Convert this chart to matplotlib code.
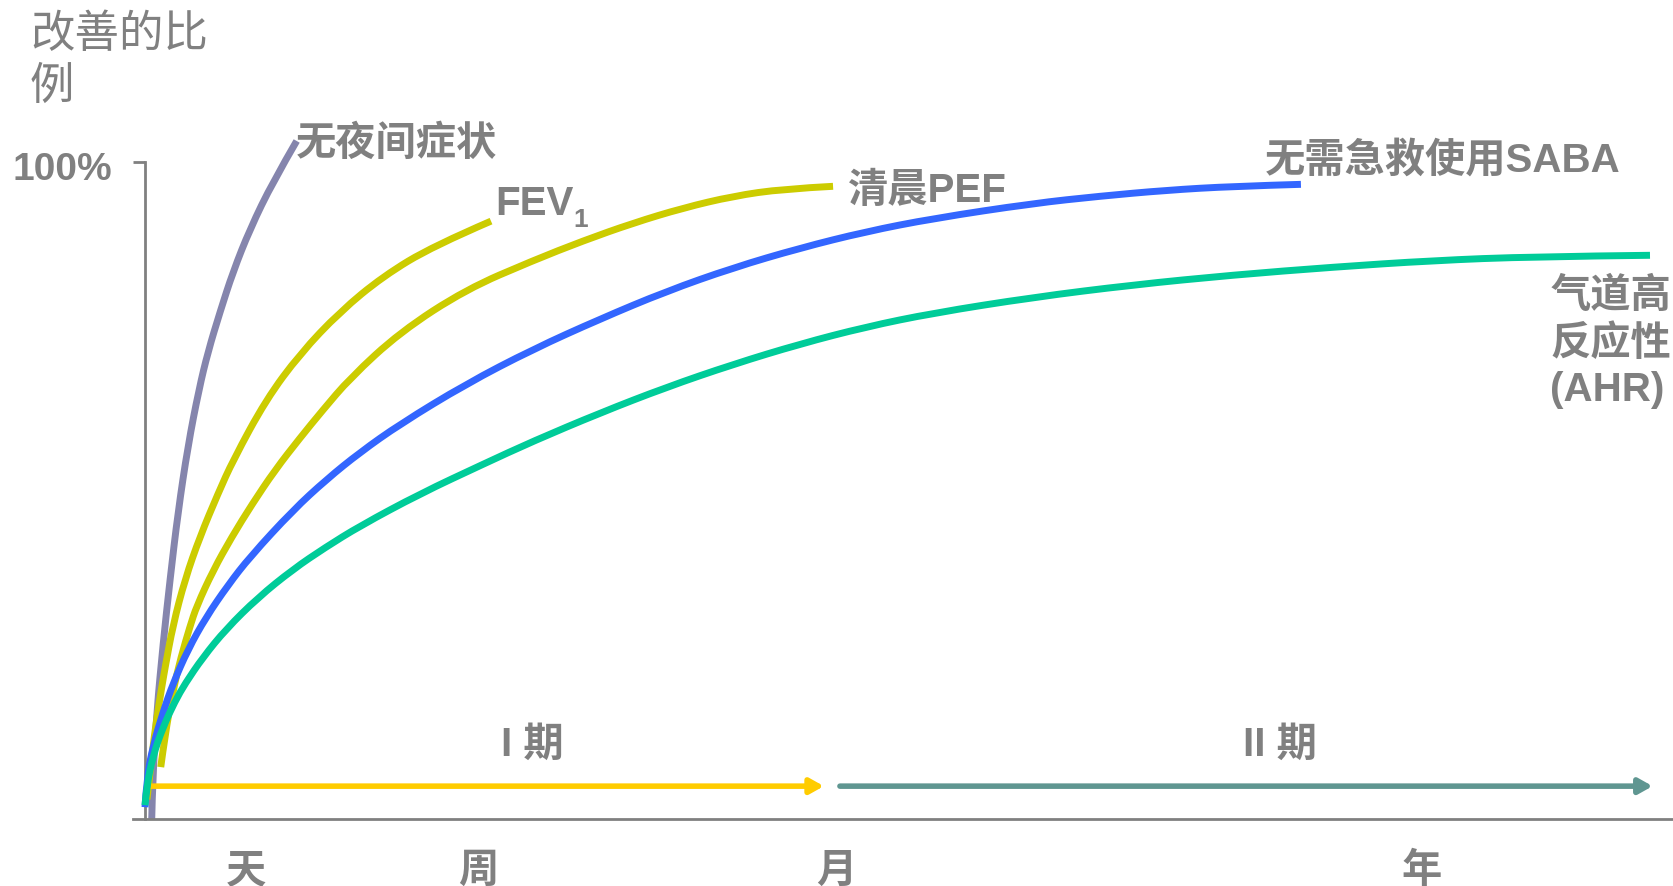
import matplotlib
matplotlib.use('Agg')
import matplotlib.pyplot as plt
from matplotlib.path import Path
from matplotlib.patches import PathPatch

plt.rcParams['font.family'] = ['Liberation Sans', 'Noto Sans CJK SC']

# 时间轴为示意刻度 (0-100)，纵轴为改善的比例 (%)
t_night = [0.44, 0.50, 0.77, 1.18, 1.64, 2.16, 2.81, 3.53, 4.12, 4.91, 5.76, 6.87, 8.37, 9.92]
y_night = [0, 6.1, 16.3, 26.6, 36.5, 46.7, 56.8, 65.4, 71.1, 77.2, 83.3, 89.8, 97.0, 103.2]

t_fev1 = [0.13, 0.46, 0.78, 1.09, 1.31, 1.83, 2.62, 3.60, 4.77, 5.76, 7.91, 10.14,
          12.75, 15.57, 18.84, 22.63]
y_fev1 = [3.0, 10.0, 15.5, 20.0, 23.0, 29.5, 36.5, 43.0, 49.5, 54.6, 63.8, 70.8,
          77.2, 82.6, 87.2, 91.0]

t_pef = [1.03, 1.31, 1.83, 2.35, 2.94, 3.38, 4.45, 5.67, 7.00, 8.50, 10.14, 11.58,
         13.41, 16.68, 20.99, 25.38, 28.65, 31.92, 35.19, 38.46, 41.73, 45.0]
y_pef = [7.9, 12.8, 19.5, 24.6, 29.3, 32.4, 37.8, 42.9, 47.9, 53.1, 58.0, 62.1,
         67.1, 74.1, 80.6, 85.0, 88.0, 90.7, 93.0, 94.8, 95.9, 96.3]

t_saba = [0, 0.11, 0.52, 1.18, 1.83, 2.81, 3.99, 5.43, 6.87, 9.68, 11.88, 14.06,
          16.68, 20.99, 25.38, 29.76, 34.08, 38.46, 42.84, 47.15, 51.54, 58.08, 62.46,
          66.78, 71.16, 75.60]
y_saba = [1.8, 6.1, 11.1, 16.3, 20.6, 25.8, 30.7, 35.6, 39.9, 47.0, 51.7, 55.8,
          60.1, 66.2, 71.5, 76.1, 80.3, 83.9, 86.9, 89.4, 91.4, 93.7, 94.8,
          95.7, 96.3, 96.6]

t_ahr = [0, 0.11, 0.52, 1.18, 1.96, 2.62, 3.79, 5.30, 7.39, 9.68, 11.77, 14.06, 17.99,
         22.11, 25.38, 29.76, 34.08, 38.46, 42.84, 47.15, 51.54, 58.08, 64.62, 71.16,
         77.70, 84.24, 90.78, 98.43]
y_ahr = [2.1, 5.0, 9.6, 14.0, 17.9, 20.6, 24.6, 28.9, 33.7, 38.0, 41.3, 44.6, 49.5,
         54.0, 57.5, 61.8, 65.7, 69.2, 72.3, 74.9, 77.0, 79.4, 81.3, 82.8,
         84.0, 85.0, 85.6, 85.8]

time_pos = [6.6, 21.8, 45.2, 83.5]
time_labels = ['天', '周', '月', '年']

phase1 = (0.2, 44.4)
phase2 = (45.45, 98.6)
phase_y = 5.0

grey = '#808080'


def smooth_curve(ax, xs, ys, color, z):
    # 以数据点为控制点绘制二次样条路径，使曲线平滑
    pts = list(zip(xs, ys))
    verts = [pts[0]]
    codes = [Path.MOVETO]
    for i in range(1, len(pts) - 1):
        mid = ((pts[i][0] + pts[i + 1][0]) / 2, (pts[i][1] + pts[i + 1][1]) / 2)
        if i == len(pts) - 2:
            mid = pts[-1]
        verts += [pts[i], mid]
        codes += [Path.CURVE3, Path.CURVE3]
    ax.add_patch(PathPatch(Path(verts, codes), fill=False, edgecolor=color,
                           lw=5, capstyle='butt', zorder=z))


fig = plt.figure(figsize=(16.74, 8.87), dpi=100)
ax = fig.add_axes([133 / 1674, 67 / 887, 1541 / 1674, 722.7 / 887])
ax.set_xlim(-0.785, 100)
ax.set_ylim(0, 110)

smooth_curve(ax, t_night, y_night, '#8585AD', 2)
smooth_curve(ax, t_fev1, y_fev1, '#CCCC00', 3)
smooth_curve(ax, t_pef, y_pef, '#CCCC00', 3)
smooth_curve(ax, t_saba, y_saba, '#3366FF', 4)
smooth_curve(ax, t_ahr, y_ahr, '#00CC99', 5)

# 阶段箭头
ax.annotate('', xy=(phase1[1], phase_y), xytext=(phase1[0], phase_y),
            arrowprops=dict(arrowstyle='-|>,head_length=0.8,head_width=0.45',
                            color='#FFCC00', lw=4, shrinkA=0, shrinkB=0))
ax.annotate('', xy=(phase2[1], phase_y), xytext=(phase2[0], phase_y),
            arrowprops=dict(arrowstyle='-|>,head_length=0.8,head_width=0.45',
                            color='#5F9691', lw=4, shrinkA=0, shrinkB=0))

lab = dict(color=grey, fontsize=29, fontweight='bold')
ax.text(sum(phase1) / 2 + 3, 11.5, 'I 期', ha='center', va='center', **lab)
ax.text(sum(phase2) / 2 + 2.2, 11.5, 'II 期', ha='center', va='center', **lab)

# 曲线标签
ax.text(9.88, 103.0, '无夜间症状', ha='left', va='center', **lab)
fev = ax.text(22.9, 93.7, 'FEV', ha='left', va='center', **lab)
ax.annotate('1', xy=(1.0, 0.1), xycoords=fev, ha='left', va='center',
            color=grey, fontsize=19, fontweight='bold')
ax.text(45.98, 95.7, '清晨PEF', ha='left', va='center', **lab)
ax.text(73.25, 100.4, '无需急救使用SABA', ha='left', va='center', **lab)
ax.text(91.9, 72.6, '气道高\n反应性\n(AHR)', ha='left', va='center',
        linespacing=1.28, **lab)

# 坐标轴
for s in ['top', 'right']:
    ax.spines[s].set_visible(False)
for s in ['left', 'bottom']:
    ax.spines[s].set_color(grey)
    ax.spines[s].set_linewidth(2)
ax.spines['left'].set_position(('data', 0))
ax.spines['left'].set_bounds(0, 100)

ax.set_yticks([100])
ax.set_yticklabels([''])
ax.tick_params(axis='y', length=8.6, width=2, color=grey)
ax.annotate('100%', xy=(0, 100), xycoords=ax.get_yaxis_transform(),
            xytext=(-21, -7), textcoords='offset pixels', ha='right', va='center',
            color=grey, fontsize=28, fontweight='bold')

ax.set_xticks(time_pos)
ax.set_xticklabels(time_labels)
ax.tick_params(axis='x', length=0, pad=23, labelsize=29, labelcolor=grey)
for t in ax.get_xticklabels():
    t.set_fontweight('bold')

fig.text(30 / 1674, 1 - 14 / 887, '改善的比\n例', ha='left', va='top',
         color=grey, fontsize=32, linespacing=1.35)

fig.savefig('out.png', dpi=100)
